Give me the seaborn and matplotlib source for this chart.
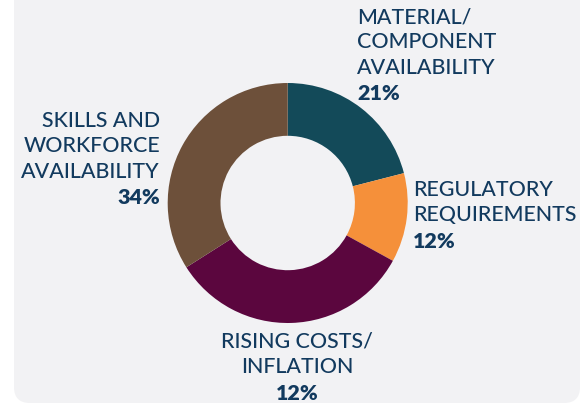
import matplotlib.pyplot as plt
import seaborn as sns
from matplotlib.patches import FancyBboxPatch

# Dữ liệu
categories = ['MATERIAL/\nCOMPONENT\nAVAILABILITY', 'REGULATORY\nREQUIREMENTS',
              'RISING COSTS/\nINFLATION', 'SKILLS AND\nWORKFORCE\nAVAILABILITY']
shares = [21, 12, 33, 34]              # kích thước lát cắt
pct_labels = ['21%', '12%', '12%', '34%']  # nhãn in trên hình gốc
colors = ['#134a59', '#f5903a', '#5b063e', '#6d503a']

sns.set_theme(style='white')
plt.rcParams['font.family'] = ['Lato', 'DejaVu Sans']

W, H = 582, 407
fig = plt.figure(figsize=(W / 100, H / 100), dpi=100)
fig.patch.set_facecolor('white')

# Nền xám bo góc
bg = fig.add_axes([0, 0, 1, 1])
bg.set_xlim(0, W)
bg.set_ylim(H, 0)
bg.axis('off')
bg.add_patch(FancyBboxPatch((14, -40), W + 40 - 14 - 42, H - 4 + 40,
                            boxstyle='round,pad=0,rounding_size=16',
                            facecolor='#f2f2f4', edgecolor='none'))

# Biểu đồ donut
cx, cy, r = 287.7, 203, 120
ax = fig.add_axes([(cx - r) / W, (H - cy - r) / H, 2 * r / W, 2 * r / H])
ax.pie(shares, colors=colors, startangle=90, counterclock=False,
       wedgeprops=dict(width=0.44, edgecolor='none'))
ax.set_xlim(-1, 1)
ax.set_ylim(-1, 1)
ax.set_aspect('equal')

# Nhãn
txt_color = '#123a5e'
fs = 15.4
label_pos = [(357, 17, 'left'), (413, 190, 'left'), (297, 342, 'center'), (160, 121, 'right')]
line_h = 25.3
for cat, pct, (x, y, ha) in zip(categories, pct_labels, label_pos):
    lines = cat.split('\n')
    for i, line in enumerate(lines):
        bg.text(x, y + i * line_h, line, ha=ha, va='center', fontsize=fs,
                fontweight='medium', color=txt_color)
    bg.text(x, y + len(lines) * line_h + 1, pct, ha=ha, va='center', fontsize=fs,
            fontweight='heavy', color=txt_color)

fig.savefig('out.png', dpi=100, facecolor='white')
